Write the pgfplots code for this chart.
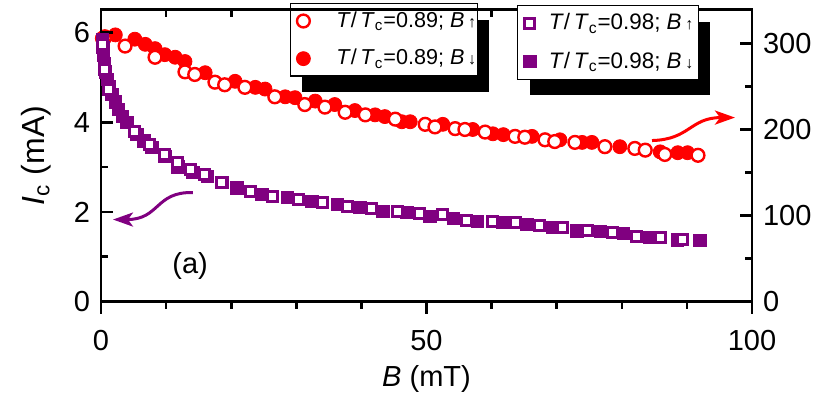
\documentclass[border=0pt]{standalone}
\usepackage{fontspec}
\setmainfont{Liberation Sans}
\usepackage{pgfplots}
\pgfplotsset{compat=1.18}
\usetikzlibrary{shadows,arrows.meta}
\definecolor{pur}{RGB}{128,0,128}
\definecolor{myred}{RGB}{255,0,0}
\begin{document}
\begin{tikzpicture}[font=\fontsize{14.5}{17}\selectfont]
\useasboundingbox (-50.5pt,-53.75pt) rectangle (364.5pt,150.75pt);
\pgfplotsset{
  common/.style={
    width=325.5pt, height=146pt, scale only axis, at={(0,0)}, anchor=south west,
    xmin=0, xmax=100,
    /pgf/number format/assume math mode=true,
    axis line style={line width=1.3pt},
    every tick/.style={black, line width=1.3pt},
    major tick length=6pt, minor tick length=3.5pt,
    clip=false,
  },
  redopen/.style={only marks, mark=*, mark size=3.2pt, mark options={draw=myred, fill=white, line width=1.2pt}},
  redfill/.style={only marks, mark=*, mark size=3.5pt, mark options={draw=myred, fill=myred, line width=0.4pt}},
  puropen/.style={only marks, mark=square*, mark size=2.5pt, mark options={draw=pur, fill=white, line width=1.5pt}},
  purfill/.style={only marks, mark=square*, mark size=3.1pt, mark options={draw=pur, fill=pur, line width=0.4pt}},
  legbox/.style={anchor=north west, draw=black, line width=0.6pt, fill=white,
    row sep=5.5pt, column sep=0pt,
    drop shadow={shadow xshift=6pt, shadow yshift=-8pt, fill=black, opacity=1}},
}
\newcommand\legA[2]{\hspace*{11pt}\textit{T}/\,\textit{T}\textsubscript{c}=#1; \textit{B}\,{\footnotesize #2}\hspace*{-4.5pt}}
\newcommand\legB[2]{\hspace*{4.4pt}\textit{T}/\,\textit{T}\textsubscript{c}=#1; \textit{B}\,{\footnotesize #2}\hspace*{-2.5pt}}
% bottom ticks (outside) and x label
\begin{axis}[common, ymin=0, ymax=1, tick align=outside,
  xtick={0,50,100}, minor xtick={10,20,30,40,60,70,80,90}, xtick pos=left,
  ytick=\empty,
  xticklabel style={yshift=-5pt},
  xlabel={\textit{B} (mT)},
  every axis x label/.style={at={(rel axis cs:0.5,-0.265)}, anchor=center},
]
\end{axis}
% top ticks (inside)
\begin{axis}[common, ymin=0, ymax=1, tick align=inside,
  xtick={0,50,100}, minor xtick={10,20,30,40,60,70,80,90}, xtick pos=right, xticklabels={},
  ytick=\empty]
\end{axis}
% right axis, red data
\begin{axis}[common, ymin=0, ymax=339.5, tick align=inside,
  axis y line*=right, axis x line=none,
  ytick={0,100,200,300}, minor ytick={50,150,250},
  yticklabel style={xshift=2pt},
  reverse legend,
  legend style={legbox, at={(0.290,1.022)}, font=\fontsize{10.8}{12}\selectfont},
  legend cell align=left,
]
\addplot+[redfill] coordinates {
(0.2,306)(0.6,308)(2.2,310)(5.2,305)(6.8,299)(8.3,294)(9.8,287)(11.4,284)(12.9,279)(16.0,266)(20.6,256)
(23.7,249)(25.2,247)(28.3,238)(29.8,237)(32.9,233)(35.9,229)(39.0,222)(42.1,217)(43.6,215)(46.2,209)
(47.5,209)(52.5,206)(57.1,200)(60.2,195)(61.8,194)(66.2,192)(70.5,188)(73.9,185)(75.4,185)(79.7,180)
(85.9,174)(88.6,173)(90.1,173)};
\addlegendentry{\legA{0.89}{↓}}
\addplot+[redopen] coordinates {
(0.5,306)(3.7,297)(8.3,284)(12.9,267)(14.4,264)(17.5,255)(19.0,252)(22.1,249)(26.7,238)(31.3,229)
(34.4,226)(37.5,220)(40.6,217)(45.2,212)(49.8,206)(51.3,203)(54.4,201)(55.9,200)(59.0,197)(63.6,192)
(65.1,191)(68.2,188)(69.7,186)(72.8,185)(77.4,180)(82.0,178)(83.6,176)(86.6,171)(91.7,170)};
\addlegendentry{\legA{0.89}{↑}}
\end{axis}
% left axis, purple data
\begin{axis}[common, ymin=0, ymax=6.52, tick align=inside,
  xtick=\empty,
  ytick={0,2,4,6}, minor ytick={1,3,5}, ytick pos=left,
  yticklabel style={xshift=-2pt},
  ylabel={\fontsize{16}{18}\selectfont\textit{I}\textsubscript{c} (mA)},
  every axis y label/.style={at={(rel axis cs:-0.100,0.5)}, anchor=center, rotate=90},
  reverse legend,
  legend style={legbox, at={(0.639,1.015)}, font=\fontsize{11.2}{13}\selectfont},
  legend cell align=left,
]
\addplot+[purfill] coordinates {
(0.2,5.85)(0.3,5.67)(0.4,5.49)(0.5,5.31)(0.7,5.13)(1.0,4.96)(1.3,4.80)(1.7,4.62)(2.2,4.46)(2.7,4.29)
(3.3,4.13)(4.0,4.00)(5.5,3.73)(6.6,3.59)(7.8,3.44)(9.8,3.24)(11.8,3.01)(14.1,2.88)(16.3,2.79)(18.6,2.66)
(20.9,2.54)(24.7,2.39)(28.6,2.32)(32.4,2.23)(36.3,2.17)(39.8,2.10)(43.3,2.01)(47.0,1.99)(50.5,1.90)
(54.1,1.85)(57.8,1.79)(61.7,1.76)(65.4,1.72)(69.4,1.65)(73.1,1.58)(76.7,1.56)(80.2,1.52)(84.3,1.43)
(88.5,1.38)(92.0,1.36)};
\addlegendentry{\legB{0.98}{↓}}
\addplot+[puropen] coordinates {
(0.3,5.74)(0.6,5.18)(1.2,4.73)(5.2,3.79)(7.5,3.50)(9.8,3.28)(11.8,3.10)(13.8,2.95)(15.9,2.83)(18.5,2.66)
(22.9,2.46)(26.4,2.34)(30.3,2.28)(34.1,2.21)(37.9,2.12)(41.6,2.08)(45.5,2.01)(49.0,1.96)(52.5,1.94)
(56.2,1.81)(60.1,1.79)(63.6,1.76)(67.4,1.70)(70.9,1.65)(74.8,1.58)(78.5,1.54)(82.3,1.45)(85.9,1.43)(89.4,1.38)};
\addlegendentry{\legB{0.98}{↑}}
\draw[pur, line width=1.5pt, -{Stealth[length=10pt, width=7pt, inset=2.5pt]}]
  (axis cs:14.13,2.433) .. controls (axis cs:8.29,2.455) and (axis cs:9.06,1.83) .. (axis cs:1.84,1.83);
\draw[myred, line width=1.5pt, -{Stealth[length=10pt, width=7pt, inset=2.5pt]}]
  (axis cs:84.64,3.594) .. controls (axis cs:90.48,3.616) and (axis cs:90.48,4.107) .. (axis cs:97.39,4.107);
\node at (axis cs:13.7,0.80) {(a)};
\end{axis}
\end{tikzpicture}
\end{document}
